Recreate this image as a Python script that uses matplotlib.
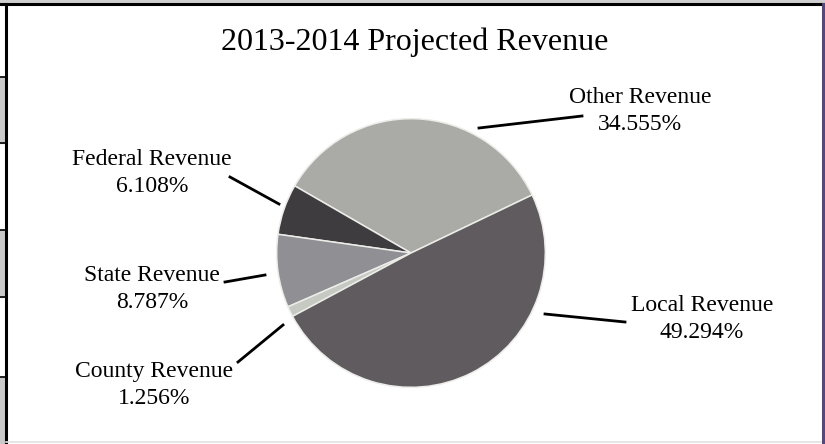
import matplotlib.pyplot as plt
from matplotlib.patches import Rectangle
from matplotlib.lines import Line2D

# slices in counter-clockwise order starting at the Other/Local boundary
labels = ["Other Revenue", "Federal Revenue", "State Revenue", "County Revenue", "Local Revenue"]
shares = [34.555, 6.108, 8.787, 1.256, 49.294]
colors = ["#aaaaa6", "#3f3c40", "#908f93", "#c6c8c2", "#5f5b5f"]

W, H = 825, 444
fig = plt.figure(figsize=(W / 100, H / 100), dpi=100)
plt.rcParams['font.family'] = ['Liberation Serif', 'DejaVu Serif']


def fx(x, y):
    # image pixel -> figure fraction
    return x / W, 1 - y / H


# page frame / table fragments around the chart
fig.patches.append(Rectangle((0, 1 - 3 / H), 1, 3 / H, transform=fig.transFigure,
                             color="#cfcfcf", zorder=0))
for y0, y1 in [(77, 143), (230, 297), (377, 444)]:
    fig.patches.append(Rectangle((0, 1 - y1 / H), 4 / W, (y1 - y0) / H,
                                 transform=fig.transFigure, color="#c9c9c9", zorder=0))
for y in [77, 143, 230, 297, 377]:
    fig.lines.append(Line2D([0, 5 / W], [1 - y / H] * 2, transform=fig.transFigure,
                            color="black", lw=1.2))
fig.lines.append(Line2D([0, 1], [1 - 4 / H] * 2, transform=fig.transFigure, color="black", lw=2.2))
fig.lines.append(Line2D([5.5 / W] * 2, [0, 1 - 4 / H], transform=fig.transFigure, color="black", lw=2.2))
fig.lines.append(Line2D([822.5 / W] * 2, [0, 1 - 4 / H], transform=fig.transFigure, color="#56467e", lw=2.2))
fig.lines.append(Line2D([6 / W, 821 / W], [1 - 442 / H] * 2, transform=fig.transFigure,
                        color="#e2e2e2", lw=1.2))

# pie axes: centre ~ (411, 253), radius ~ 137 px
cx, cy, r = 411, 253, 137
ax = fig.add_axes([(cx - r) / W, 1 - (cy + r) / H, 2 * r / W, 2 * r / H])
ax.pie(shares, colors=colors, startangle=25.6, counterclock=True,
       wedgeprops=dict(edgecolor="#ecece8", linewidth=1.1))
ax.set_xlim(-1.02, 1.02)
ax.set_ylim(-1.02, 1.02)
ax.set_aspect("equal")
ax.axis("off")

fig.text(*fx(415, 42), "2013-2014 Projected Revenue", ha="center", va="center", fontsize=23)

# label text centres and leader lines (image pixels)
text_pos = {
    "Other Revenue": (640, 111),
    "Federal Revenue": (152, 173),
    "State Revenue": (152, 289),
    "County Revenue": (154, 385),
    "Local Revenue": (702, 319),
}
leaders = {
    "Other Revenue": [(479, 128), (582, 116)],
    "Federal Revenue": [(230, 177), (279, 204)],
    "State Revenue": [(225, 282), (265, 275)],
    "County Revenue": [(238, 362), (283, 325)],
    "Local Revenue": [(545, 314), (625, 322)],
}

for lab, val in zip(labels, shares):
    tx, ty = text_pos[lab]
    fig.text(*fx(tx, ty), f"{lab}\n{val:.3f}%", ha="center", va="center",
             fontsize=17, linespacing=1.4)
    (x0, y0), (x1, y1) = leaders[lab]
    fig.lines.append(Line2D([x0 / W, x1 / W], [1 - y0 / H, 1 - y1 / H],
                            transform=fig.transFigure, color="black", lw=2))

fig.savefig("out.png", dpi=100, facecolor="white")
